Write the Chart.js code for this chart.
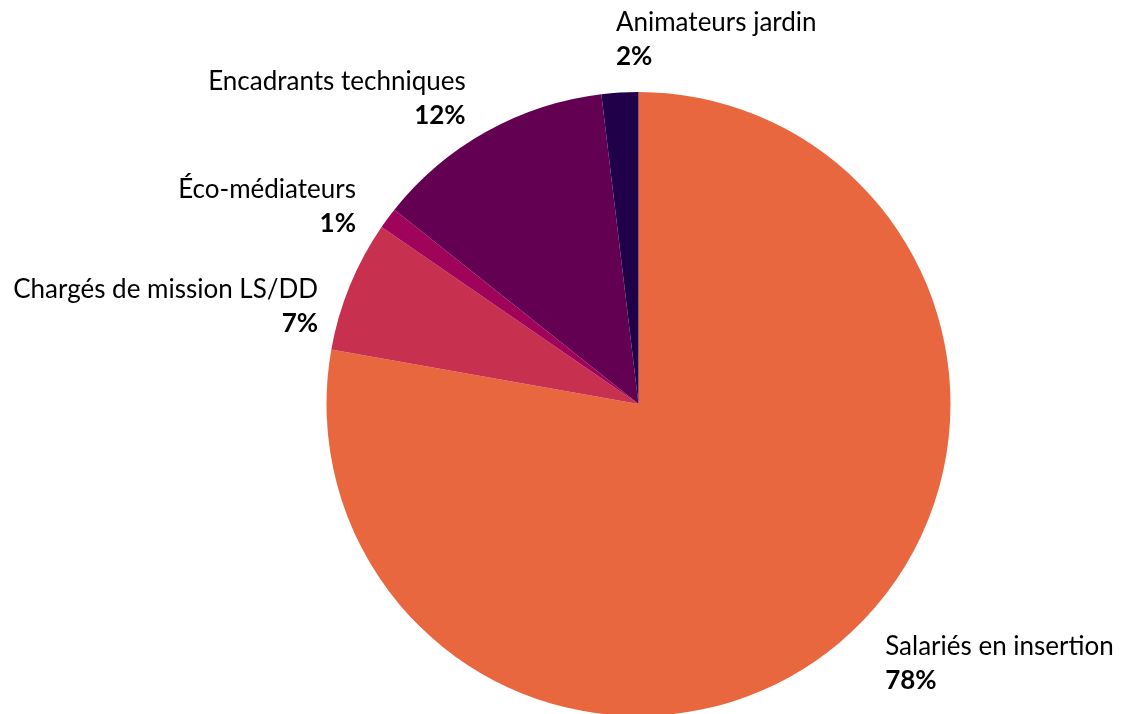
<!DOCTYPE html>
<html>
<head>
<meta charset="utf-8">
<script src="https://cdn.jsdelivr.net/npm/chart.js@4/dist/chart.umd.min.js"></script>
<style>
  html,body{margin:0;padding:0;background:#fff;}
  #wrap{width:1137px;height:714px;position:relative;}
</style>
</head>
<body>
<div id="wrap"><canvas id="graf"></canvas></div>
<script>
// valeurs (en %)
const categories = ["Salariés en insertion", "Chargés de mission LS/DD", "Éco-médiateurs", "Encadrants techniques", "Animateurs jardin"];
const valeurs = [77.8, 6.8, 1.1, 12.4, 1.9];
const couleurs = ["#E9673F", "#C8304F", "#A0035A", "#630052", "#21004A"];

// petit décalage de chaque étiquette par rapport au point d'ancrage
const decalages = [[36, 8], [-17, 27], [-19, -2], [-13, -19], [-3, -37]];

const etiquettes = {
  id: 'etiquettes',
  afterDraw(chart){
    const ctx = chart.ctx;
    const meta = chart.getDatasetMeta(0);
    const total = valeurs.reduce((a,b)=>a+b,0);
    meta.data.forEach((arc, i) => {
      const p = arc.getProps(['x','y','startAngle','endAngle','outerRadius'], true);
      const mid = (p.startAngle + p.endAngle) / 2;
      const r = p.outerRadius + 16;
      const dx = Math.cos(mid), dy = Math.sin(mid);
      let x = p.x + dx * r + decalages[i][0];
      let y = p.y + dy * r + decalages[i][1];
      ctx.save();
      ctx.fillStyle = "#000";
      ctx.textBaseline = "middle";
      ctx.textAlign = dx < -0.2 ? "right" : "left";
      ctx.font = "26px Lato";
      ctx.fillText(categories[i], x, y - 17);
      ctx.font = "bold 26px Lato";
      ctx.fillText(Math.round(valeurs[i] / total * 100) + "%", x, y + 17);
      ctx.restore();
    });
  }
};

new Chart(document.getElementById('graf'), {
  type: 'pie',
  data: {
    labels: categories,
    datasets: [{
      data: valeurs,
      backgroundColor: couleurs,
      borderWidth: 0,
      radius: 312
    }]
  },
  options: {
    responsive: true,
    maintainAspectRatio: false,
    animation: false,
    layout: {padding: {top: 94, bottom: 0, left: 327, right: 187}},
    plugins: {
      legend: {display: false},
      tooltip: {enabled: false}
    }
  },
  plugins: [etiquettes]
});
</script>
</body>
</html>
